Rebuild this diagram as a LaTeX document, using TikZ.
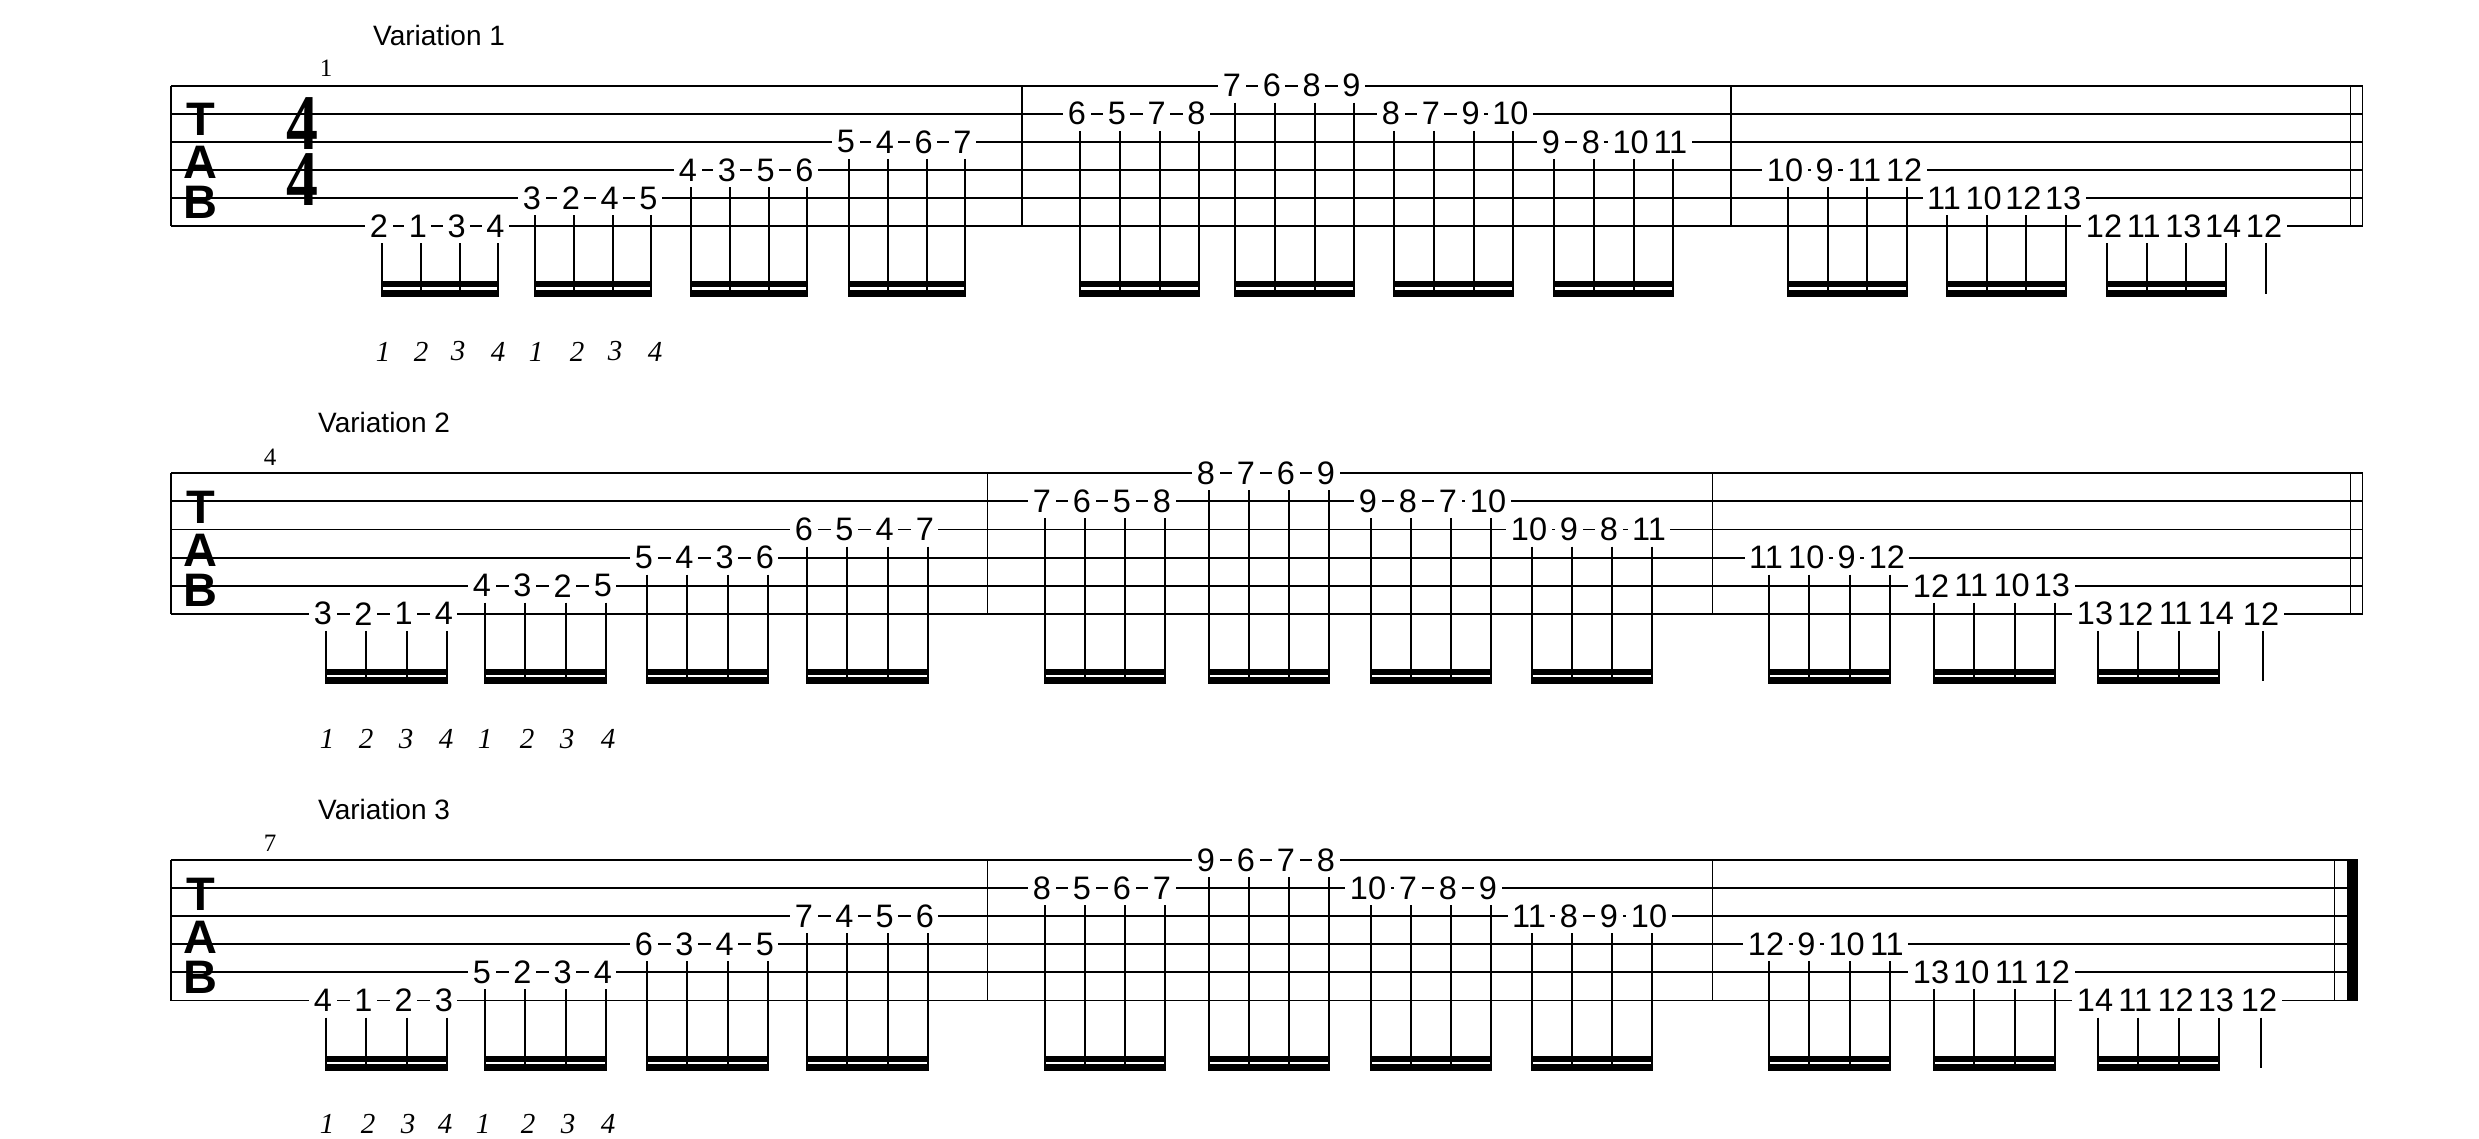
\documentclass[tikz,border=0pt]{standalone}
\usepackage{fontspec}
\setmainfont{Liberation Serif}
\setsansfont{Liberation Sans}

\tikzset{
  staffline/.style={line width=1.9pt},
  barline/.style={line width=1.9pt},
  stem/.style={line width=2pt},
  fret/.style={fill=white, inner xsep=4.5pt, inner ysep=1pt, font=\sffamily\fontsize{32.5}{32.5}\selectfont},
  tabletter/.style={inner sep=0pt, font=\sffamily\bfseries\fontsize{47}{47}\selectfont},
  timesig/.style={inner sep=0pt, font=\rmfamily\bfseries\fontsize{58}{58}\selectfont},
  varlabel/.style={anchor=base west, inner sep=0pt, font=\sffamily\fontsize{28}{28}\selectfont},
  barnum/.style={inner sep=0pt, font=\rmfamily\fontsize{25}{25}\selectfont},
  countnum/.style={inner sep=0pt, font=\rmfamily\itshape\fontsize{29}{29}\selectfont}
}

% one tab staff: #1 name, #2 top line y, #3 first bar, #4 second bar, #5 right end
\newcommand{\tabstaff}[5]{%
  \foreach \s in {0,...,5}
    \draw[staffline] (171,#2+28.1*\s) -- (#5,#2+28.1*\s);
  \foreach \bx in {171,#3,#4}
    \draw[barline] (\bx,#2) -- (\bx,#2+140.5);
  \node[tabletter] (#1-T) at (200.5,#2+34) {T};
  \node[tabletter] (#1-A) at (200.5,#2+77) {A};
  \node[tabletter] (#1-B) at (200.5,#2+117) {B};
}

% four beamed sixteenths: #1 name, #2 staff top, #3 string, #4 first x, #5 step, #6 frets
\newcommand{\fretgroup}[6]{%
  \pgfmathsetmacro{\sy}{#2+28.1*(#3-1)}
  \foreach \f [count=\i from 0] in {#6} {
    \draw[stem] (#4+\i*#5,\sy+17) -- (#4+\i*#5,#2+140.5+70.3);
    \node[fret] (#1-\i) at (#4+\i*#5-3,\sy) {\f};
  }
  \fill (#4-1,#2+140.5+55) rectangle (#4+3*#5+1,#2+140.5+61);
  \fill (#4-1,#2+140.5+63.6) rectangle (#4+3*#5+1,#2+140.5+70.3);
}

% single quarter note: #1 name, #2 staff top, #3 string, #4 x, #5 fret
\newcommand{\fretsingle}[5]{%
  \pgfmathsetmacro{\sy}{#2+28.1*(#3-1)}
  \draw[stem] (#4,\sy+17) -- (#4,#2+140.5+67.6);
  \node[fret] (#1) at (#4-2,\sy) {#5};
}

\begin{document}
\begin{tikzpicture}[x=1pt,y=-1pt]
\useasboundingbox (0,0) rectangle (2479,1138);

%Variation 1
\tabstaff{sa}{85.7}{1022}{1731}{2362.5}
\draw[barline] (2350.5,85.7) -- (2350.5,226.2);
\draw[barline] (2362.5,85.7) -- (2362.5,226.2);
\node[varlabel] (var1) at (373,45) {Variation 1};
\node[barnum] (num1) at (326,68.5) {1};
\node[timesig] (ts-up) at (302.5,123.5) {\scalebox{1.1}[1.36]{4}};
\node[timesig] (ts-dn) at (302.5,180) {\scalebox{1.1}[1.36]{4}};

\fretgroup{a1}{85.7}{6}{382}{38.8}{2,1,3,4}
\fretgroup{a2}{85.7}{5}{535}{38.8}{3,2,4,5}
\fretgroup{a3}{85.7}{4}{691}{38.8}{4,3,5,6}
\fretgroup{a4}{85.7}{3}{849}{38.8}{5,4,6,7}
\fretgroup{a5}{85.7}{2}{1080}{39.8}{6,5,7,8}
\fretgroup{a6}{85.7}{1}{1235}{39.8}{7,6,8,9}
\fretgroup{a7}{85.7}{2}{1394}{39.8}{8,7,9,10}
\fretgroup{a8}{85.7}{3}{1554}{39.8}{9,8,10,11}
\fretgroup{a9}{85.7}{4}{1788}{39.7}{10,9,11,12}
\fretgroup{a10}{85.7}{5}{1947}{39.7}{11,10,12,13}
\fretgroup{a11}{85.7}{6}{2107}{39.7}{12,11,13,14}
\fretsingle{a12}{85.7}{6}{2266}{12}

\foreach \cx/\cn [count=\c] in {383/1,421/2,458/3,498/4,536/1,577/2,615/3,655/4}
  \node[countnum] (ca-\c) at (\cx,351.5) {\cn};

%Variation 2
\tabstaff{sb}{473.3}{987.5}{1712.5}{2362.5}
\draw[barline] (2350.5,473.3) -- (2350.5,613.8);
\draw[barline] (2362.5,473.3) -- (2362.5,613.8);
\node[varlabel] (var2) at (318,432) {Variation 2};
\node[barnum] (num4) at (270,457.5) {4};

\fretgroup{b1}{473.3}{6}{326}{40.3}{3,2,1,4}
\fretgroup{b2}{473.3}{5}{485}{40.3}{4,3,2,5}
\fretgroup{b3}{473.3}{4}{647}{40.3}{5,4,3,6}
\fretgroup{b4}{473.3}{3}{807}{40.3}{6,5,4,7}
\fretgroup{b5}{473.3}{2}{1045}{40}{7,6,5,8}
\fretgroup{b6}{473.3}{1}{1209}{40}{8,7,6,9}
\fretgroup{b7}{473.3}{2}{1371}{40}{9,8,7,10}
\fretgroup{b8}{473.3}{3}{1532}{40}{10,9,8,11}
\fretgroup{b9}{473.3}{4}{1769}{40.3}{11,10,9,12}
\fretgroup{b10}{473.3}{5}{1934}{40.3}{12,11,10,13}
\fretgroup{b11}{473.3}{6}{2098}{40.3}{13,12,11,14}
\fretsingle{b12}{473.3}{6}{2263}{12}

\foreach \cx/\cn [count=\c] in {327/1,366/2,406/3,446/4,485/1,527/2,567/3,608/4}
  \node[countnum] (cb-\c) at (\cx,739) {\cn};

%Variation 3
\tabstaff{sc}{860}{987.5}{1712.5}{2358}
\draw[barline] (2334.5,860) -- (2334.5,1000.5);
\fill (2347,860) rectangle (2358,1000.5);
\node[varlabel] (var3) at (318,819) {Variation 3};
\node[barnum] (num7) at (270,843.5) {7};

\fretgroup{c1}{860}{6}{326}{40.3}{4,1,2,3}
\fretgroup{c2}{860}{5}{485}{40.3}{5,2,3,4}
\fretgroup{c3}{860}{4}{647}{40.3}{6,3,4,5}
\fretgroup{c4}{860}{3}{807}{40.3}{7,4,5,6}
\fretgroup{c5}{860}{2}{1045}{40}{8,5,6,7}
\fretgroup{c6}{860}{1}{1209}{40}{9,6,7,8}
\fretgroup{c7}{860}{2}{1371}{40}{10,7,8,9}
\fretgroup{c8}{860}{3}{1532}{40}{11,8,9,10}
\fretgroup{c9}{860}{4}{1769}{40.3}{12,9,10,11}
\fretgroup{c10}{860}{5}{1934}{40.3}{13,10,11,12}
\fretgroup{c11}{860}{6}{2098}{40.3}{14,11,12,13}
\fretsingle{c12}{860}{6}{2261}{12}

\foreach \cx/\cn [count=\c] in {327/1,368/2,408/3,445/4,483/1,528/2,568/3,608/4}
  \node[countnum] (cc-\c) at (\cx,1124) {\cn};

\end{tikzpicture}
\end{document}
